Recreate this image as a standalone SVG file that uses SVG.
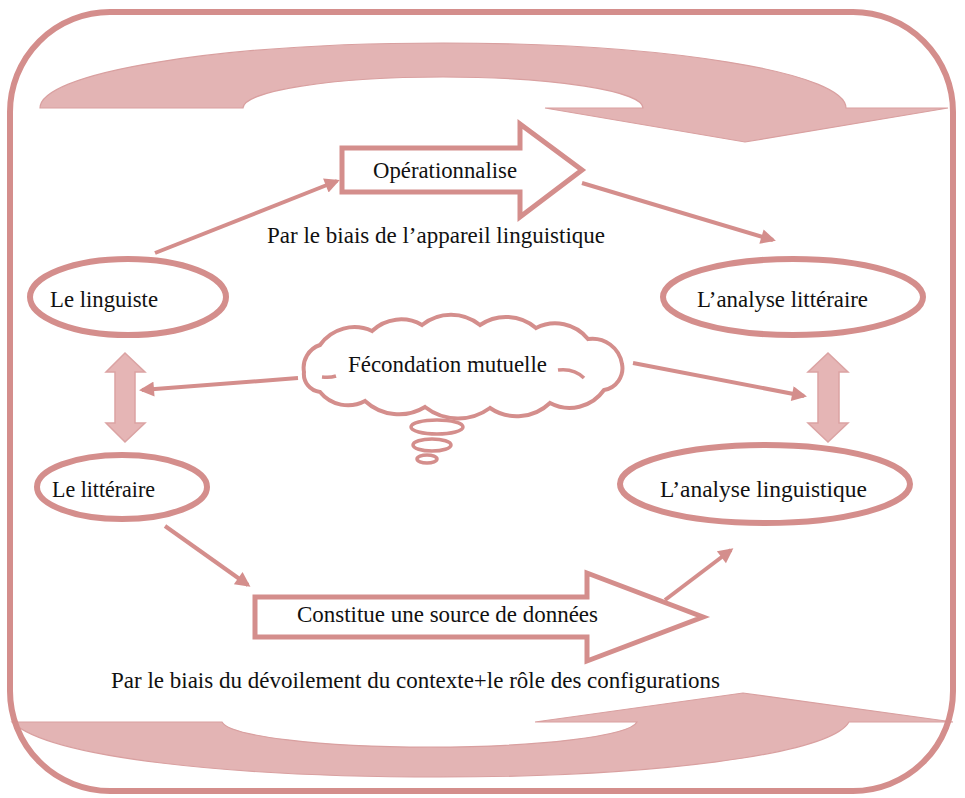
<svg xmlns="http://www.w3.org/2000/svg" width="965" height="798" viewBox="0 0 965 798">
<style>
.lbl{font-family:"Liberation Serif","DejaVu Serif","Times New Roman",serif;font-size:24px;fill:#111;}
.ell{fill:none;stroke:#d48e8c;stroke-width:6;}
.blk{fill:#fff;stroke:#d48e8c;stroke-width:5;stroke-linejoin:miter;}
.dbl{fill:#e5b5b5;stroke:#dba3a3;stroke-width:1.5;}
.curv{fill:#e3b4b4;stroke:#d9a0a0;stroke-width:1.2;}
.con{fill:none;stroke:#d48e8c;stroke-width:4;marker-end:url(#ah);}
.cloud{fill:#fff;stroke:#d48e8c;stroke-width:4;}
</style>
<defs>
<marker id="ah" viewBox="0 0 10 10" refX="8" refY="5" markerWidth="18" markerHeight="15" markerUnits="userSpaceOnUse" orient="auto">
<path d="M0,0 L10,5 L0,10 z" fill="#d48e8c"/>
</marker>
</defs>

<g id="top-curved-arrow">
<path class="curv" d="M40,108 A403,65 0 0 1 846,108 L948,108 L745,142 L545,108 L643,108 A200,31 0 0 0 243,108 Z"/>
</g>
<g id="bottom-curved-arrow">
<path class="curv" d="M12,722 C50,758 230,777 440,777 C650,777 830,755 849,722 L953,722 L743,693 L535,722 L637,722 A208,27 0 0 1 222,722 Z"/>
</g>
<g id="frame">
<rect x="10" y="12" width="943" height="779" rx="100" ry="100" fill="none" stroke="#d48e8c" stroke-width="6"/>
</g>

<g id="connectors">
<path class="con" d="M155,253 L337,181"/>
<path class="con" d="M582,183 L773,240"/>
<path class="con" d="M298,378 L142,390"/>
<path class="con" d="M633,363 L804,396"/>
<path class="con" d="M165,526 L248,585"/>
<path class="con" d="M665,600 L731,550"/>
</g>

<g id="operationnalise">
<polygon class="blk" points="342,148 520,148 520,124 582,170 520,217 520,192 342,192"/>
<text class="lbl" x="373" y="178" textLength="144" lengthAdjust="spacingAndGlyphs">Opérationnalise</text>
</g>
<g id="label-appareil">
<text class="lbl" x="267" y="243" textLength="338" lengthAdjust="spacingAndGlyphs">Par le biais de l’appareil linguistique</text>
</g>

<g id="le-linguiste">
<ellipse class="ell" cx="128" cy="297" rx="98" ry="38"/>
<text class="lbl" x="50" y="307" textLength="108" lengthAdjust="spacingAndGlyphs">Le linguiste</text>
</g>
<g id="analyse-litteraire">
<ellipse class="ell" cx="793" cy="297" rx="130" ry="38"/>
<text class="lbl" x="697" y="307" textLength="171" lengthAdjust="spacingAndGlyphs">L’analyse littéraire</text>
</g>

<g id="fecondation">
<path class="cloud" d="M304,372 A24,24 0 0 1 320,345 A42,42 0 0 1 372,331 A42,42 0 0 1 422,325 A46,46 0 0 1 480,325 A46,46 0 0 1 536,328 A42,42 0 0 1 588,339 A30,30 0 0 1 622,364 A22,22 0 0 1 604,390 A42,42 0 0 1 550,403 A48,48 0 0 1 490,408 A54,54 0 0 1 425,407 A50,50 0 0 1 365,401 A36,36 0 0 1 320,392 A18,18 0 0 1 304,372 Z"/>
<path d="M322,377 Q330,378 336,376 M558,370 Q574,368 584,378" fill="none" stroke="#d48e8c" stroke-width="3.5"/>
<ellipse cx="437" cy="427" rx="26" ry="7" fill="#fff" stroke="#d48e8c" stroke-width="3.5"/>
<ellipse cx="432" cy="445" rx="19" ry="6" fill="#fff" stroke="#d48e8c" stroke-width="3.5"/>
<ellipse cx="427" cy="459" rx="10" ry="4" fill="#fff" stroke="#d48e8c" stroke-width="3.5"/>
<text class="lbl" x="348" y="372" textLength="199" lengthAdjust="spacingAndGlyphs">Fécondation mutuelle</text>
</g>

<g id="double-arrow-left">
<polygon class="dbl" points="125,353 145,372 135,372 135,423 145,423 125,442 106,423 115,423 115,372 106,372"/>
</g>
<g id="double-arrow-right">
<polygon class="dbl" points="828,353 848,372 839,372 839,423 848,423 828,442 808,423 818,423 818,372 808,372"/>
</g>

<g id="le-litteraire">
<ellipse class="ell" cx="122" cy="487" rx="85" ry="32"/>
<text class="lbl" x="52" y="497" textLength="103" lengthAdjust="spacingAndGlyphs">Le littéraire</text>
</g>
<g id="analyse-linguistique">
<ellipse class="ell" cx="765" cy="484" rx="145" ry="39"/>
<text class="lbl" x="660" y="497" textLength="207" lengthAdjust="spacingAndGlyphs">L’analyse linguistique</text>
</g>

<g id="constitue">
<polygon class="blk" points="255,597 587,597 587,573 703,617 587,661 587,637 255,637"/>
<text class="lbl" x="297" y="622" textLength="301" lengthAdjust="spacingAndGlyphs">Constitue une source de données</text>
</g>
<g id="label-devoilement">
<text class="lbl" x="111" y="688" textLength="609" lengthAdjust="spacingAndGlyphs" style="font-size:23px">Par le biais du dévoilement du contexte+le rôle des configurations</text>
</g>
</svg>
